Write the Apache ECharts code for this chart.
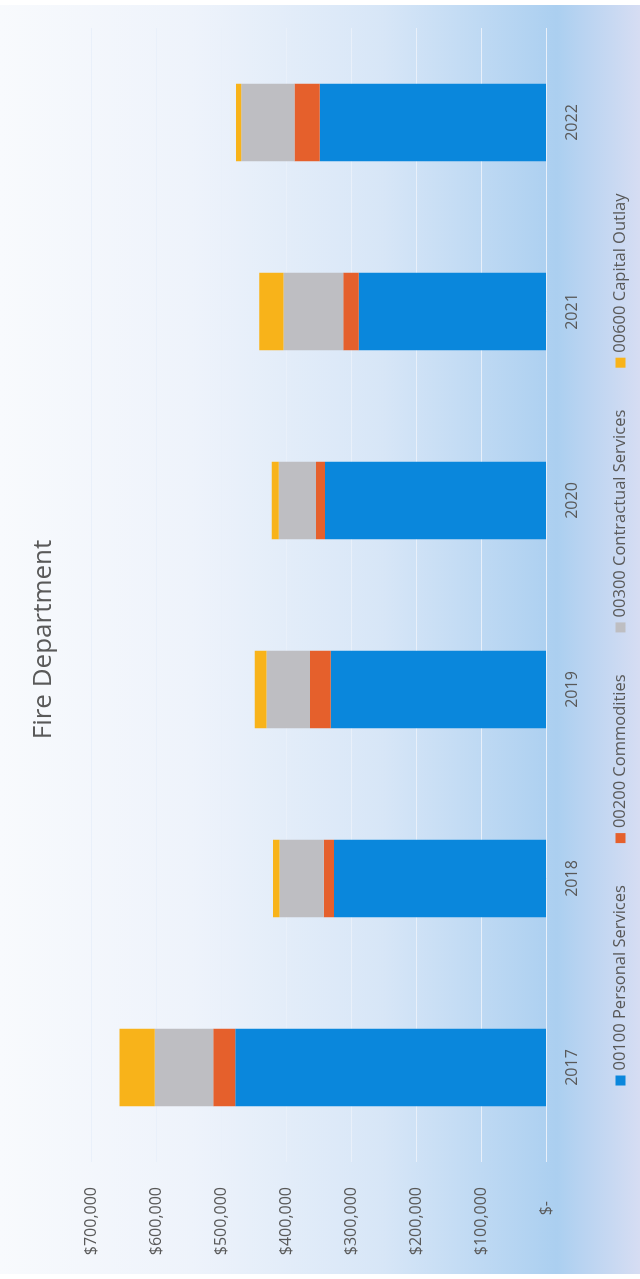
<!DOCTYPE html>
<html>
<head>
<meta charset="utf-8">
<script src="https://cdn.jsdelivr.net/npm/echarts@6/dist/echarts.min.js"></script>
<style>
  html, body { margin: 0; padding: 0; width: 640px; height: 1279px; overflow: hidden; background: #ffffff; }
  /* The chart is laid out landscape and turned a quarter turn counter-clockwise onto the page */
  #chart {
    position: absolute; left: 0; top: 0;
    width: 1279px; height: 640px;
    transform-origin: 0 0;
    transform: translateY(1279px) rotate(-90deg);
  }
</style>
</head>
<body>
<div id="chart"></div>
<script>
// Fire Department budget by fiscal year, stacked by account group
const categories = ['2017', '2018', '2019', '2020', '2021', '2022'];
const personalServices = [478000, 326000, 331000, 340000, 288000, 348000];
const commodities = [34000, 16000, 32000, 14000, 24000, 39000];
const contractualServices = [90000, 68000, 67000, 57000, 92000, 82000];
const capitalOutlay = [54000, 10000, 18000, 11000, 37000, 8000];
const seriesNames = ['00100 Personal Services', '00200 Commodities', '00300 Contractual Services', '00600 Capital Outlay'];
const seriesColors = ['#0a87dc', '#e5602c', '#bebec2', '#f8b31a'];

const FONT = '"Open Sans", "Noto Sans", sans-serif';
const TEXT = '#595959';

function money(v) {
  if (v === 0) return '{z|$-}';
  return '$' + v.toLocaleString('en-US');
}

const chart = echarts.init(document.getElementById('chart'), null, { renderer: 'canvas' });

const values = [personalServices, commodities, contractualServices, capitalOutlay];

chart.setOption({
  animation: false,
  graphic: [{
    type: 'rect',
    z: -100,
    silent: true,
    shape: { x: 5, y: 0, width: 1269, height: 640 },
    style: {
      fill: new echarts.graphic.LinearGradient(0, 0, 0, 1, [
        { offset: 0, color: '#f8fafd' },
        { offset: 0.3, color: '#eef3fb' },
        { offset: 0.6, color: '#d7e6f7' },
        { offset: 0.87, color: '#abcff0' },
        { offset: 1, color: '#d6ddf3' }
      ])
    }
  }],
  title: {
    text: 'Fire Department',
    left: 'center',
    top: 26,
    textStyle: { fontFamily: FONT, fontSize: 26, fontWeight: 'normal', color: TEXT }
  },
  legend: {
    top: 607,
    left: 'center',
    itemGap: 42,
    itemWidth: 10,
    itemHeight: 10,
    icon: 'rect',
    textStyle: { fontFamily: FONT, fontSize: 16.5, color: TEXT },
    data: seriesNames
  },
  grid: { left: 117, right: 28, top: 91, bottom: 94, containLabel: false },
  xAxis: {
    type: 'category',
    data: categories,
    axisLine: { show: false },
    axisTick: { show: false },
    axisLabel: { fontFamily: FONT, fontSize: 16, color: TEXT, margin: 18 }
  },
  yAxis: {
    type: 'value',
    min: 0,
    max: 700000,
    interval: 100000,
    axisLine: { show: false },
    axisTick: { show: false },
    splitLine: { lineStyle: { color: '#e9f0fa', width: 1 } },
    axisLabel: {
      fontFamily: FONT, fontSize: 16, color: TEXT, margin: 25,
      formatter: money,
      rich: { z: { fontFamily: FONT, fontSize: 16, color: TEXT, padding: [0, 14, 0, 0] } }
    }
  },
  series: seriesNames.map((name, i) => ({
    name: name,
    type: 'bar',
    stack: 'total',
    barWidth: '41%',
    itemStyle: { color: seriesColors[i] },
    data: values[i]
  }))
});
</script>
</body>
</html>
